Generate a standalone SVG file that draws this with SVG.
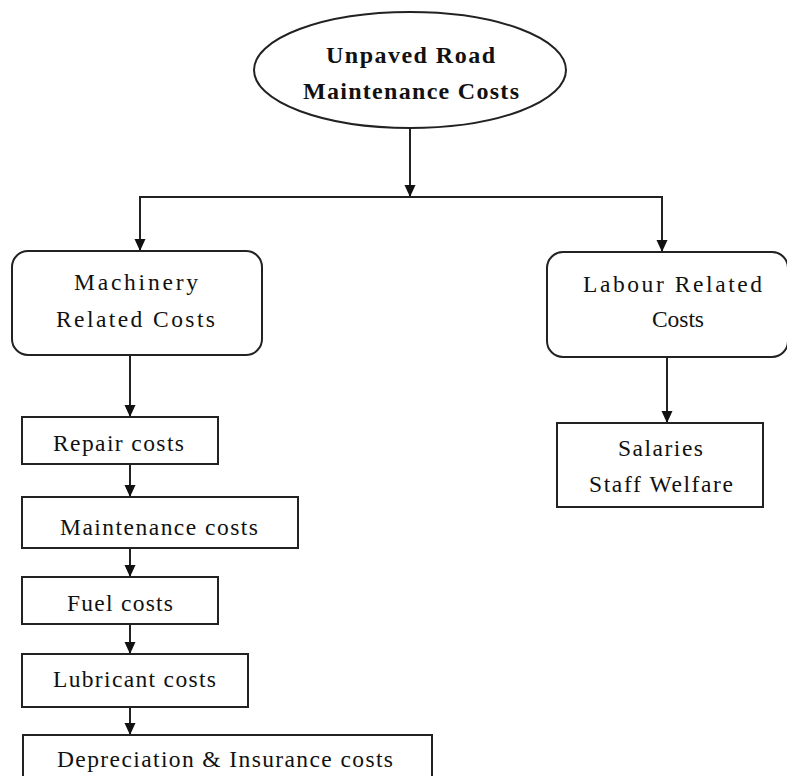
<svg xmlns="http://www.w3.org/2000/svg" width="787" height="776" viewBox="0 0 787 776">
<defs>
<style>
.shape{fill:#fff;stroke:#222;stroke-width:2}
.conn{fill:none;stroke:#222;stroke-width:2}
.t{font-family:"Liberation Serif","Times New Roman",serif;font-size:23.5px;fill:#111}
.b{font-weight:bold;font-size:24px}
</style>
<marker id="ah" markerUnits="userSpaceOnUse" markerWidth="12" markerHeight="12" refX="12" refY="5.5" orient="auto">
<path d="M0,0 L12,5.5 L0,11 z" fill="#111"/>
</marker>
</defs>
<rect width="787" height="776" fill="#fff"/>
<g id="connectors">
<line class="conn" x1="410" y1="128" x2="410" y2="197" marker-end="url(#ah)"/>
<line class="conn" x1="139" y1="197" x2="663" y2="197"/>
<line class="conn" x1="140" y1="197" x2="140" y2="251" marker-end="url(#ah)"/>
<line class="conn" x1="662" y1="197" x2="662" y2="252" marker-end="url(#ah)"/>
<line class="conn" x1="130" y1="355" x2="130" y2="417" marker-end="url(#ah)"/>
<line class="conn" x1="130" y1="464" x2="130" y2="497" marker-end="url(#ah)"/>
<line class="conn" x1="130" y1="548" x2="130" y2="577" marker-end="url(#ah)"/>
<line class="conn" x1="130" y1="624" x2="130" y2="654" marker-end="url(#ah)"/>
<line class="conn" x1="130" y1="707" x2="130" y2="735" marker-end="url(#ah)"/>
<line class="conn" x1="667" y1="357" x2="667" y2="423" marker-end="url(#ah)"/>
</g>
<g id="root">
<ellipse class="shape" cx="410" cy="70" rx="156" ry="58"/>
<text class="t b" x="326" y="63" textLength="169" lengthAdjust="spacing">Unpaved Road</text>
<text class="t b" x="303" y="99" textLength="216" lengthAdjust="spacing">Maintenance Costs</text>
</g>
<g id="machinery">
<rect class="shape" x="12" y="251" width="250" height="104" rx="16"/>
<text class="t" x="74" y="290" textLength="124" lengthAdjust="spacing">Machinery</text>
<text class="t" x="56" y="327" textLength="159" lengthAdjust="spacing">Related Costs</text>
</g>
<g id="labour">
<rect class="shape" x="547" y="252" width="241" height="105" rx="16"/>
<text class="t" x="583" y="292" textLength="179" lengthAdjust="spacing">Labour Related</text>
<text class="t" x="652" y="327" textLength="52" lengthAdjust="spacing">Costs</text>
</g>
<g id="salaries">
<rect class="shape" x="557" y="423" width="206" height="84"/>
<text class="t" x="618" y="456" textLength="85" lengthAdjust="spacing">Salaries</text>
<text class="t" x="589" y="492" textLength="144" lengthAdjust="spacing">Staff Welfare</text>
</g>
<g id="repair">
<rect class="shape" x="22" y="417" width="196" height="47"/>
<text class="t" x="53" y="451" textLength="131" lengthAdjust="spacing">Repair costs</text>
</g>
<g id="maintenance">
<rect class="shape" x="22" y="497" width="276" height="51"/>
<text class="t" x="60" y="535" textLength="198" lengthAdjust="spacing">Maintenance costs</text>
</g>
<g id="fuel">
<rect class="shape" x="22" y="577" width="196" height="47"/>
<text class="t" x="67" y="611" textLength="106" lengthAdjust="spacing">Fuel costs</text>
</g>
<g id="lubricant">
<rect class="shape" x="22" y="654" width="226" height="53"/>
<text class="t" x="53" y="687" textLength="163" lengthAdjust="spacing">Lubricant costs</text>
</g>
<g id="depreciation">
<rect class="shape" x="23" y="735" width="409" height="60"/>
<text class="t" x="57" y="767" textLength="336" lengthAdjust="spacing">Depreciation &amp; Insurance costs</text>
</g>
</svg>
